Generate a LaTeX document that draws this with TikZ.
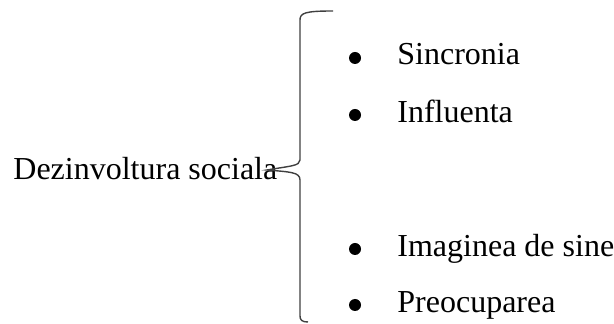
\documentclass[tikz,border=0pt]{standalone}
\usepackage{fontspec}
\setmainfont{Liberation Serif}
\begin{document}
\begin{tikzpicture}[x=0.5pt,y=-0.5pt,
  lbl/.style={inner sep=0pt,anchor=base west,font=\fontsize{16}{19}\selectfont},
  bul/.style={circle,fill=black,inner sep=0pt,minimum size=6pt},
  brace/.style={draw=black!75,line width=0.7pt}]
\useasboundingbox (0,0) rectangle (614,324);
\node[lbl] (main) at (13,180) {Dezinvoltura sociala};
\node[bul] (b1) at (355,58) {};
\node[bul] (b2) at (355,115) {};
\node[bul] (b3) at (355,249) {};
\node[bul] (b4) at (355,305) {};
\node[lbl] (t1) at (397,65) {Sincronia};
\node[lbl] (t2) at (397,123) {Influenta};
\node[lbl] (t3) at (397,257) {Imaginea de sine};
\node[lbl] (t4) at (397,313) {Preocuparea};
\coordinate (top) at (333,11);
\coordinate (tip) at (267,170);
\coordinate (bot) at (308,322);
\draw[brace] (top) .. controls (305,11) and (300,13) .. (300,20)
  -- (300,160) .. controls (300,166) and (290,166) .. (tip)
  .. controls (290,172) and (300,172) .. (300,180)
  -- (300,316) .. controls (300,320) and (302,322) .. (bot);
\end{tikzpicture}
\end{document}
